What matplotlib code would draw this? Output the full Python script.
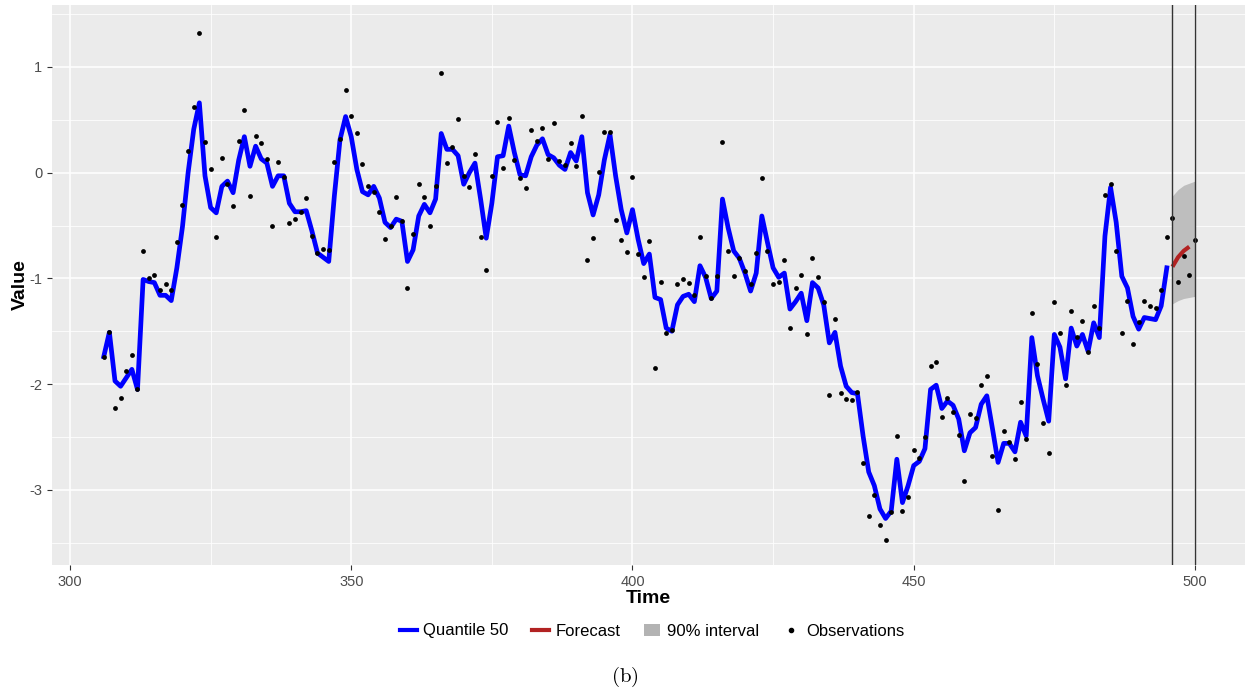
import numpy as np
import matplotlib
matplotlib.use("Agg")
import matplotlib.pyplot as plt
from matplotlib.lines import Line2D
from matplotlib.patches import Patch

plt.rcParams['font.family'] = ['Liberation Sans', 'DejaVu Sans']
plt.rcParams['mathtext.fontset'] = 'cm'

# median (quantile 50) path, t = 306..495
q50_start = 306
q50 = [-1.74, -1.51, -1.97, -2.02, -1.94, -1.86, -2.05, -1.01, -1.03, -1.04, -1.16, -1.16, -1.21, -0.90, -0.51, 0.00, 0.41, 0.66,
       -0.03, -0.33, -0.38, -0.13, -0.08, -0.19, 0.12, 0.34, 0.06, 0.25, 0.13, 0.09, -0.13, -0.03, -0.03, -0.29, -0.37,
       -0.37, -0.36, -0.55, -0.76, -0.80, -0.84, -0.22, 0.31, 0.53, 0.34, 0.03, -0.18, -0.21, -0.13, -0.24, -0.47, -0.52, -0.44,
       -0.46, -0.84, -0.73, -0.41, -0.30, -0.38, -0.25, 0.37, 0.22, 0.22, 0.16, -0.11, 0.00, 0.09, -0.25, -0.62, -0.29, 0.15,
       0.16, 0.44, 0.19, -0.02, -0.03, 0.15, 0.26, 0.32, 0.17, 0.14, 0.07, 0.03, 0.19, 0.11, 0.34, -0.19, -0.40,
       -0.21, 0.12, 0.36, -0.03, -0.35, -0.57, -0.35, -0.63, -0.86, -0.77, -1.18, -1.20, -1.47, -1.50, -1.25, -1.17, -1.15, -1.22,
       -0.88, -0.99, -1.19, -1.12, -0.25, -0.52, -0.74, -0.81, -0.95, -1.12, -0.95, -0.41, -0.66, -0.90, -0.99, -0.95, -1.29, -1.22,
       -1.14, -1.40, -1.04, -1.09, -1.25, -1.61, -1.51, -1.83, -2.02, -2.08, -2.09, -2.49, -2.83, -2.96, -3.18, -3.27, -3.20, -2.71,
       -3.12, -2.96, -2.77, -2.73, -2.61, -2.05, -2.01, -2.23, -2.16, -2.20, -2.33, -2.63, -2.46, -2.41, -2.19, -2.11, -2.42, -2.74,
       -2.56, -2.56, -2.64, -2.36, -2.49, -1.56, -1.92, -2.14, -2.35, -1.53, -1.65, -1.95, -1.47, -1.64, -1.53, -1.69, -1.42, -1.56,
       -0.60, -0.14, -0.47, -0.98, -1.09, -1.36, -1.48, -1.37, -1.38, -1.39, -1.26, -0.90]

# observations, t = 306..500
obs_start = 306
obs = [-1.74, -1.51, -2.23, -2.13, -1.88, -1.72, -2.05, -0.74, -1.00, -0.97, -1.11, -1.05, -1.11, -0.66, -0.31, 0.20, 0.62, 1.32,
       0.29, 0.03, -0.61, 0.14, -0.11, -0.32, 0.30, 0.59, -0.22, 0.35, 0.28, 0.13, -0.50, 0.10, -0.04, -0.48, -0.44,
       -0.37, -0.24, -0.60, -0.76, -0.72, -0.73, 0.10, 0.32, 0.78, 0.54, 0.37, 0.08, -0.13, -0.18, -0.37, -0.63, -0.50, -0.23,
       -0.46, -1.09, -0.58, -0.11, -0.23, -0.50, -0.13, 0.94, 0.09, 0.24, 0.51, -0.03, -0.14, 0.18, -0.61, -0.92, -0.03, 0.48,
       0.04, 0.52, 0.12, -0.05, -0.15, 0.40, 0.30, 0.42, 0.13, 0.47, 0.11, 0.07, 0.28, 0.06, 0.54, -0.83, -0.62,
       0.01, 0.38, 0.38, -0.45, -0.64, -0.75, -0.04, -0.77, -0.99, -0.65, -1.85, -1.03, -1.52, -1.49, -1.05, -1.01, -1.04, -1.16,
       -0.61, -0.98, -1.19, -0.98, 0.29, -0.74, -0.98, -0.81, -0.93, -1.05, -0.76, -0.05, -0.74, -1.05, -1.03, -0.83, -1.47, -1.09,
       -0.97, -1.53, -0.81, -0.99, -1.22, -2.10, -1.38, -2.08, -2.14, -2.15, -2.07, -2.75, -3.25, -3.05, -3.33, -3.47, -3.21, -2.49,
       -3.20, -3.07, -2.62, -2.70, -2.50, -1.83, -1.79, -2.31, -2.13, -2.26, -2.48, -2.92, -2.28, -2.32, -2.01, -1.92, -2.68, -3.19,
       -2.44, -2.55, -2.71, -2.17, -2.52, -1.33, -1.81, -2.37, -2.65, -1.22, -1.52, -2.01, -1.31, -1.55, -1.40, -1.70, -1.26, -1.47,
       -0.21, -0.11, -0.74, -1.52, -1.21, -1.62, -1.41, -1.21, -1.26, -1.28, -1.11, -0.61, -0.43, -1.03, -0.79, -0.97, -0.64]

# forecast and 90% interval
fc_t = [496, 497, 498, 499]
fc = [-0.89, -0.80, -0.74, -0.70]
band_t = [496, 497, 498, 499, 500]
band_hi = [-0.22, -0.16, -0.12, -0.10, -0.08]
band_lo = [-1.24, -1.21, -1.19, -1.18, -1.17]
vlines = [496, 500]

t_q = np.arange(q50_start, q50_start + len(q50))
t_o = np.arange(obs_start, obs_start + len(obs))

fig = plt.figure(figsize=(12.49, 6.94), dpi=100)
ax = fig.add_axes([52/1249, 1 - 565/694, (1245-52)/1249, (565-5)/694])
ax.set_facecolor('#EBEBEB')
for s in ax.spines.values():
    s.set_visible(False)

ax.set_xlim(296.8, 508.9)
ax.set_ylim(-3.71, 1.585)
ax.set_xticks([300, 350, 400, 450, 500])
ax.set_xticks([325, 375, 425, 475], minor=True)
ax.set_yticks([-3, -2, -1, 0, 1])
ax.set_yticks([-3.5, -2.5, -1.5, -0.5, 0.5, 1.5], minor=True)
ax.set_yticklabels(['-3', '-2', '-1', '0', '1'])
ax.grid(which='major', color='white', lw=1.1)
ax.grid(which='minor', color='white', lw=0.55)
ax.set_axisbelow(True)
ax.tick_params(which='major', length=3.5, color='#333333', labelcolor='#4D4D4D', labelsize=10.5)
ax.tick_params(which='minor', length=0)

ax.fill_between(band_t, band_lo, band_hi, color='#BEBEBE', lw=0, zorder=2)
ax.plot(t_q, q50, color='blue', lw=3.4, zorder=3, solid_joinstyle='round')
ax.plot(fc_t, fc, color='#B22222', lw=3.0, zorder=3, solid_capstyle='butt')
ax.scatter(t_o, obs, s=12, color='black', zorder=4, linewidths=0)
for v in vlines:
    ax.axvline(v, color='#333333', lw=1.0, zorder=5)

ax.set_xlabel('Time', fontsize=14, fontweight='bold', labelpad=1)
ax.set_ylabel('Value', fontsize=14, fontweight='bold', labelpad=0)

handles = [Line2D([], [], color='blue', lw=3),
           Line2D([], [], color='#B22222', lw=3),
           Patch(facecolor='#B3B3B3', edgecolor='none'),
           Line2D([], [], color='black', marker='o', ls='none', markersize=3)]
labels = ['Quantile 50', 'Forecast', '90% interval', 'Observations']
fig.legend(handles, labels, loc='center', bbox_to_anchor=(652/1249, 1 - 631/694), ncol=4,
           frameon=False, fontsize=12, handlelength=1.0, handletextpad=0.4, columnspacing=1.4)

fig.text(625/1249, 1 - 677/694, r'$\mathrm{(b)}$', ha='center', va='center', fontsize=15)

fig.savefig('out.png', dpi=100)
